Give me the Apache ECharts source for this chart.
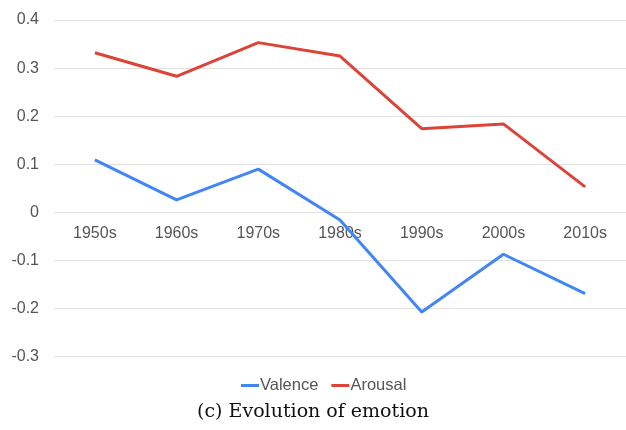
<!DOCTYPE html>
<html>
<head>
<meta charset="utf-8">
<script src="https://cdn.jsdelivr.net/npm/echarts@6/dist/echarts.min.js"></script>
<style>html,body{margin:0;padding:0;background:#fff;}#c{width:626px;height:430px;}</style>
</head>
<body>
<div id="c"></div>
<script>
const categories = ['1950s','1960s','1970s','1980s','1990s','2000s','2010s'];
const valence = [0.109, 0.026, 0.090, -0.016, -0.207, -0.087, -0.169];
const arousal = [0.332, 0.283, 0.353, 0.325, 0.174, 0.184, 0.053];
const caption = '(c) Evolution of emotion';

const chart = echarts.init(document.getElementById('c'), null, {renderer: 'canvas'});
chart.setOption({
  animation: false,
  backgroundColor: '#fff',
  grid: {left: 54, top: 20, width: 573, height: 336.7, containLabel: false},
  xAxis: {
    type: 'category',
    data: categories,
    boundaryGap: true,
    offset: -144.4,
    axisLine: {show: false, onZero: false},
    axisTick: {show: false},
    axisLabel: {color: '#555', fontSize: 16, fontFamily: 'Liberation Sans, Arial, sans-serif', margin: 13}
  },
  yAxis: {
    type: 'value',
    min: -0.3, max: 0.4, interval: 0.1,
    axisLine: {show: false},
    axisTick: {show: false},
    splitLine: {lineStyle: {color: '#e0e0e0', width: 1}},
    axisLabel: {
      color: '#555', fontSize: 16, fontFamily: 'Liberation Sans, Arial, sans-serif', margin: 15,
      formatter: v => Math.abs(v) < 1e-9 ? '0' : v.toFixed(1)
    }
  },
  legend: {
    top: 372, left: 236,
    icon: 'rect', itemWidth: 18, itemHeight: 3, itemGap: 13,
    textStyle: {color: '#555', fontSize: 16.5, fontFamily: 'Liberation Sans, Arial, sans-serif', padding: [0,0,0,-4]},
    data: ['Valence', 'Arousal']
  },
  series: [
    {name: 'Valence', type: 'line', data: valence, symbol: 'none', lineStyle: {color: '#4285F4', width: 3}, itemStyle: {color: '#4285F4'}},
    {name: 'Arousal', type: 'line', data: arousal, symbol: 'none', lineStyle: {color: '#DB4437', width: 3}, itemStyle: {color: '#DB4437'}}
  ],
  graphic: [{
    type: 'text', left: 'center', top: 403,
    style: {text: caption, font: '19px "DejaVu Serif", "Liberation Serif", serif', fill: '#111'}
  }]
});
</script>
</body>
</html>
